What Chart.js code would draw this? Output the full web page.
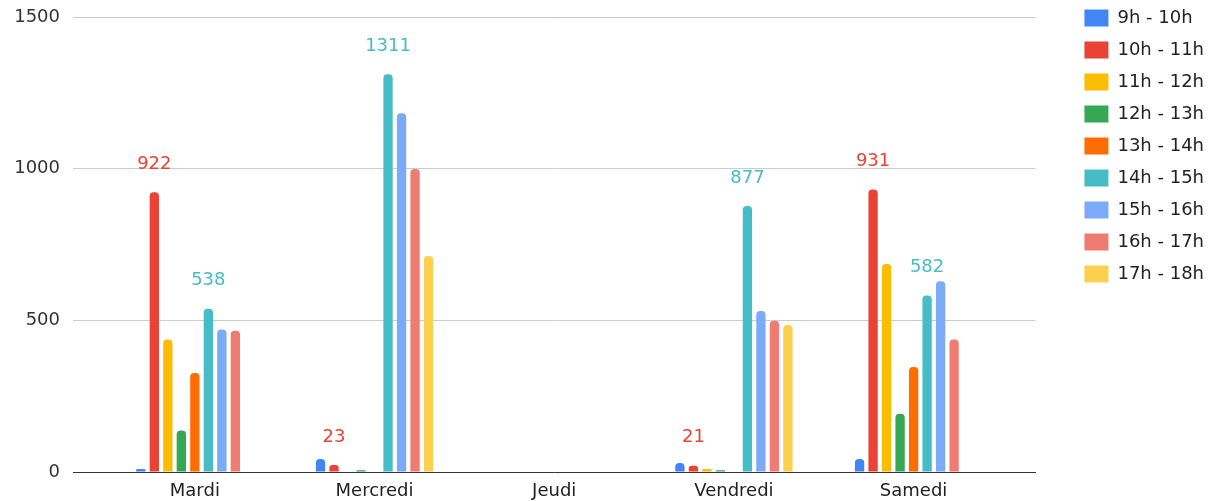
<!DOCTYPE html>
<html>
<head>
<meta charset="UTF-8">
<title>Fréquentation par créneau</title>
<script src="https://cdn.jsdelivr.net/npm/chart.js"></script>
<style>
html, body { margin: 0; padding: 0; background: #fff; }
#wrap { width: 1225px; height: 501px; }
</style>
</head>
<body>
<div id="wrap"><canvas id="chart"></canvas></div>
<script>
// jours
const jours = ['Mardi', 'Mercredi', 'Jeudi', 'Vendredi', 'Samedi'];

// créneaux horaires
const creneaux = ['9h - 10h', '10h - 11h', '11h - 12h', '12h - 13h', '13h - 14h',
                  '14h - 15h', '15h - 16h', '16h - 17h', '17h - 18h'];

// valeurs par créneau (Mardi, Mercredi, Jeudi, Vendredi, Samedi)
const h9  = [10, 43, 0, 30, 43];
const h10 = [922, 23, 0, 21, 931];
const h11 = [437, 2, 0, 10, 686];
const h12 = [137, 6, 0, 6, 192];
const h13 = [326, 0, 0, 0, 346];
const h14 = [538, 1311, 0, 877, 582];
const h15 = [470, 1183, 0, 531, 629];
const h16 = [466, 999, 0, 499, 437];
const h17 = [0, 712, 0, 485, 0];

const couleurs = ['#4285f4', '#ea4335', '#fbbc04', '#34a853', '#ff6d01',
                  '#46bdc6', '#7baaf7', '#f07b72', '#fcd04f'];

// graduations de l'axe y
const yTicks = [0, 500, 1000, 1500];

// séries qui affichent leur valeur au-dessus des barres
const seriesAvecValeur = [1, 5];

const valeurs = [h9, h10, h11, h12, h13, h14, h15, h16, h17];

// category scale with some empty room on both sides of the plot
class PaddedCategoryScale extends Chart.CategoryScale {
    configure() {
        super.configure();
        const pad = this.options.sidePad || 0;
        this._startPixel += pad;
        this._endPixel -= pad;
        this._length -= 2 * pad;
    }
}
PaddedCategoryScale.id = 'paddedCategory';
PaddedCategoryScale.defaults = Chart.CategoryScale.defaults;
Chart.register(PaddedCategoryScale);

const valeursPlugin = {
    id: 'valeurs',
    afterDatasetsDraw(chart) {
        const ctx = chart.ctx;
        ctx.save();
        ctx.font = '18px "DejaVu Sans"';
        ctx.textAlign = 'center';
        ctx.textBaseline = 'middle';
        seriesAvecValeur.forEach(i => {
            const meta = chart.getDatasetMeta(i);
            ctx.fillStyle = couleurs[i];
            meta.data.forEach((bar, j) => {
                const v = valeurs[i][j];
                if (v > 0) ctx.fillText(String(v), bar.x, bar.y - 28);
            });
        });
        ctx.restore();
    }
};

const police = { family: '"DejaVu Sans"', size: 18 };

new Chart(document.getElementById('chart'), {
    type: 'bar',
    data: {
        labels: jours,
        datasets: creneaux.map((c, i) => ({
            label: c,
            data: valeurs[i],
            backgroundColor: couleurs[i],
            borderRadius: { topLeft: 4, topRight: 4 },
            borderSkipped: 'bottom',
            categoryPercentage: 0.6765,
            barPercentage: 0.69
        }))
    },
    options: {
        responsive: true,
        maintainAspectRatio: false,
        animation: false,
        layout: { padding: { top: -5, right: 11, left: 0, bottom: 0 } },
        plugins: {
            legend: {
                position: 'right',
                align: 'start',
                labels: {
                    boxWidth: 24,
                    boxHeight: 17,
                    padding: 14,
                    color: '#222',
                    font: police
                }
            },
            tooltip: { enabled: false }
        },
        scales: {
            x: {
                type: 'paddedCategory',
                sidePad: 32,
                offset: true,
                grid: { display: false },
                border: { display: true, color: '#333', width: 1 },
                ticks: { color: '#222', font: police, padding: 1, maxRotation: 0 },
                afterFit: s => { s.height = 29; }
            },
            y: {
                min: 0,
                max: 1500,
                grid: { color: '#cccccc', drawTicks: false },
                border: { display: false },
                ticks: {
                    color: '#333',
                    font: police,
                    padding: 13,
                    callback: v => String(v)
                },
                afterBuildTicks: s => { s.ticks = yTicks.map(v => ({ value: v })); },
                afterFit: s => { s.width = 73; s.paddingTop = 17; s.paddingBottom = 0; }
            },
            y2: {
                position: 'right',
                grid: { display: false },
                border: { display: false },
                ticks: { display: false },
                afterFit: s => { s.width = 35; }
            }
        }
    },
    plugins: [valeursPlugin]
});
</script>
</body>
</html>
